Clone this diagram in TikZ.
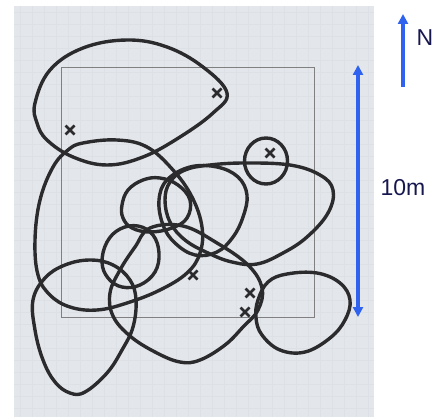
\documentclass[tikz,border=0pt]{standalone}
\usepackage{fontspec}
\setmainfont{Liberation Sans}
\usepackage{tikz}
\usetikzlibrary{arrows.meta}
\definecolor{paper}{HTML}{E3E7EB}
\definecolor{gridc}{HTML}{DDE1E5}
\definecolor{pen}{HTML}{2B2B2D}
\definecolor{bluebar}{HTML}{2F62EE}
\definecolor{ink}{HTML}{17174F}

\begin{document}
\begin{tikzpicture}[x=1pt,y=-1pt,
  loop/.style={pen,line width=3.4pt,line join=round},
  cross/.style={pen,line width=2.8pt},
  bar/.style={bluebar,line width=3.6pt,-{Triangle[length=10pt,width=10pt]}},
  every node/.style={font=\fontsize{23}{23}\selectfont,text=ink}]
\useasboundingbox (0,0) rectangle (438,417);
% sheet of paper
\fill[paper] (14,6) rectangle (374,417);
\foreach \g in {20,32,...,368}{\draw[gridc,line width=0.3pt] (\g,6)--(\g,417);}
\foreach \g in {12,24,...,412}{\draw[gridc,line width=0.3pt] (14,\g)--(374,\g);}
\draw[gray,line width=0.9pt] (61,67) rectangle (314,317);
% home ranges
\draw[loop] plot[smooth cycle,tension=0.65] coordinates {(35,103) (50,70) (83,48) (127,40) (167,47) (203,67) (227,93) (213,113) (180,137) (143,157) (107,165) (73,157) (47,140) (37,123)};
\draw[loop] plot[smooth cycle,tension=0.65] coordinates {(83,143) (117,140) (147,147) (173,170) (192,197) (202,227) (200,253) (187,273) (160,290) (127,303) (97,310) (70,307) (50,295) (38,275) (35,240) (40,200) (53,167) (68,150)};
\draw[loop] plot[smooth cycle,tension=0.65] coordinates {(122,205) (128,190) (143,180) (160,178) (178,185) (190,200) (187,218) (172,228) (150,232) (132,228) (123,218)};
\draw[loop] plot[smooth cycle,tension=0.65] coordinates {(159,200) (167,180) (190,167) (217,167) (238,177) (247,195) (243,217) (233,237) (217,252) (195,255) (175,243) (163,225)};
\draw[loop] plot[smooth cycle,tension=0.65] coordinates {(170,182) (185,170) (210,165) (245,163) (290,165) (320,175) (333,190) (328,213) (307,237) (283,253) (257,264) (232,262) (208,253) (185,240) (170,222) (165,200)};
\draw[loop] (266,161) ellipse[x radius=21.5,y radius=23];
\draw[loop] plot[smooth cycle,tension=0.65] coordinates {(102,262) (107,242) (120,229) (138,226) (153,235) (159,253) (155,272) (140,285) (122,287) (108,278)};
\draw[loop] plot[smooth cycle,tension=0.65] coordinates {(33,300) (45,278) (65,265) (90,260) (113,265) (130,280) (136,300) (133,327) (122,350) (107,373) (85,392) (70,393) (55,382) (43,360) (35,330)};
\draw[loop] plot[smooth cycle,tension=0.65] coordinates {(150,228) (183,226) (217,243) (248,265) (262,288) (258,310) (243,327) (225,345) (200,360) (180,362) (155,352) (130,336) (113,316) (110,293) (120,270) (135,247)};
\draw[loop] plot[smooth cycle,tension=0.65] coordinates {(258,300) (268,282) (287,274) (317,273) (340,283) (350,300) (345,320) (330,338) (305,352) (280,350) (262,335) (256,318)};
% sightings
\foreach \p in {(217,93),(70,130),(270,153),(193,275),(250,293),(245,312)}{
  \draw[cross] \p ++(-4.5,-4.5) -- ++(9,9) \p ++(-4.5,4.5) -- ++(9,-9);}
% scale and north
\coordinate (sbot) at (358,317);\coordinate (stop) at (358,65);
\draw[bar,{Triangle[length=10pt,width=10pt]}-{Triangle[length=10pt,width=10pt]}] (sbot)--(stop);
\node (len) at (403,188) {10m};
\coordinate (nbot) at (403,87);\coordinate (ntop) at (403,14);
\draw[bar] (nbot)--(ntop);
\node (north) at (425,38) {N};
\end{tikzpicture}
\end{document}
